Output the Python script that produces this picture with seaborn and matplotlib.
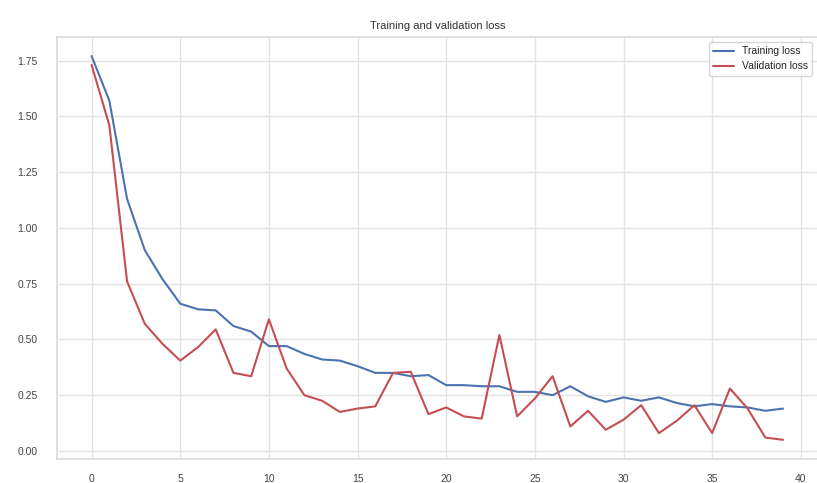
import numpy as np
import pandas as pd
import matplotlib
matplotlib.use("Agg")
import matplotlib.pyplot as plt
import seaborn as sns

# values
epochs = list(range(40))
train_loss = [1.77, 1.57, 1.13, 0.90, 0.77, 0.66, 0.635, 0.63, 0.56, 0.535,
              0.47, 0.47, 0.435, 0.41, 0.405, 0.38, 0.35, 0.35, 0.335, 0.34,
              0.295, 0.295, 0.29, 0.29, 0.265, 0.265, 0.25, 0.29, 0.245, 0.22,
              0.24, 0.225, 0.24, 0.215, 0.20, 0.21, 0.20, 0.195, 0.18, 0.19]
val_loss = [1.73, 1.46, 0.76, 0.57, 0.48, 0.405, 0.465, 0.545, 0.35, 0.335,
            0.59, 0.37, 0.25, 0.225, 0.175, 0.19, 0.20, 0.35, 0.355, 0.165,
            0.195, 0.155, 0.145, 0.52, 0.155, 0.235, 0.335, 0.11, 0.18, 0.095,
            0.14, 0.205, 0.08, 0.135, 0.205, 0.08, 0.28, 0.19, 0.06, 0.05]

df = pd.DataFrame({"epoch": epochs, "Training loss": train_loss,
                   "Validation loss": val_loss})

sns.set_theme(style="whitegrid", color_codes=True,
              rc={"grid.color": "#e2e2e2", "axes.edgecolor": "#dcdcdc"})
plt.rcParams['font.family'] = ['Liberation Sans', 'DejaVu Sans']

fig = plt.figure(figsize=(8.17, 4.83), dpi=100)
ax = fig.add_axes([0.0698, 0.0497, 0.931, 0.874])

sns.lineplot(data=df, x="epoch", y="Training loss", color="b", linewidth=1.5,
             label="Training loss", ax=ax)
sns.lineplot(data=df, x="epoch", y="Validation loss", color="r", linewidth=1.5,
             label="Validation loss", ax=ax)

ax.set_title("Training and validation loss", fontsize=8, color="#333333", pad=6)
ax.set_xlabel("")
ax.set_ylabel("")
ax.set_xticks([0, 5, 10, 15, 20, 25, 30, 35, 40])
ax.set_yticks([0.0, 0.25, 0.5, 0.75, 1.0, 1.25, 1.5, 1.75])
ax.tick_params(axis="both", labelsize=7.5, labelcolor="#444444")
ax.tick_params(axis="y", pad=8)
ax.tick_params(axis="x", pad=5)
ax.legend(loc="upper right", fontsize=7.5, frameon=True)

fig.savefig("out.png", dpi=100)
